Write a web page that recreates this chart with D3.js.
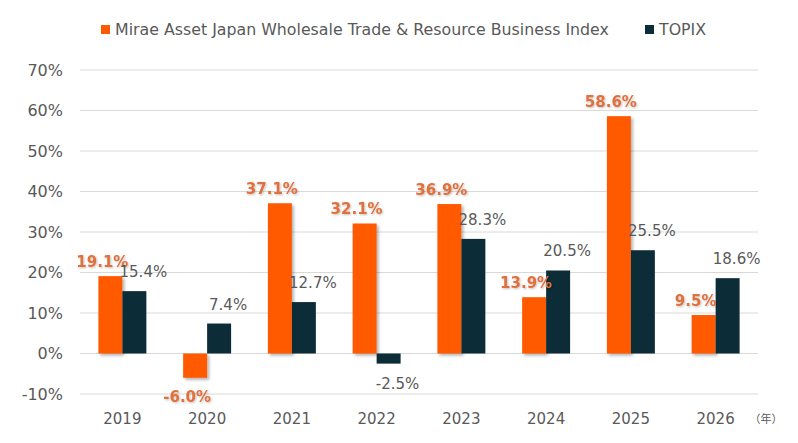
<!DOCTYPE html>
<html>
<head>
<meta charset="utf-8">
<script src="https://d3js.org/d3.v7.min.js"></script>
<style>
  body { margin: 0; background: #fff; }
  svg text { font-family: "DejaVu Sans", Verdana, sans-serif; }
</style>
</head>
<body>
<div id="chart"></div>
<script>
// data
var years = ["2019", "2020", "2021", "2022", "2023", "2024", "2025", "2026"];
var mirae = [19.1, -6.0, 37.1, 32.1, 36.9, 13.9, 58.6, 9.5];
var topix = [15.4, 7.4, 12.7, -2.5, 28.3, 20.5, 25.5, 18.6];
var seriesNames = ["Mirae Asset Japan Wholesale Trade & Resource Business Index", "TOPIX"];
var yTicks = [-10, 0, 10, 20, 30, 40, 50, 60, 70];

var W = 798, H = 443;
var orange = "#ff5a00", dark = "#0c2c38", grey = "#595959";

var svg = d3.select("#chart").append("svg")
    .attr("width", W).attr("height", H);

var defs = svg.append("defs");
defs.append("filter").attr("id", "shadow")
    .attr("x", "-20%").attr("y", "-20%").attr("width", "150%").attr("height", "150%")
  .append("feDropShadow")
    .attr("dx", 2).attr("dy", 2).attr("stdDeviation", 1.5)
    .attr("flood-color", "#000").attr("flood-opacity", 0.3);
defs.append("filter").attr("id", "tshadow")
  .append("feDropShadow")
    .attr("dx", 1).attr("dy", 1).attr("stdDeviation", 0.8)
    .attr("flood-color", "#000").attr("flood-opacity", 0.25);

var x = d3.scaleBand().domain(years).range([80, 758])
    .paddingInner(0.434).paddingOuter(0.217);
var xs = d3.scaleBand().domain([0, 1]).range([0, x.bandwidth()]);
var y = d3.scaleLinear().domain([-10, 70]).range([394, 70]);

// grid
svg.append("g").selectAll("line").data(yTicks).enter().append("line")
    .attr("x1", 80).attr("x2", 758)
    .attr("y1", function(d) { return y(d); })
    .attr("y2", function(d) { return y(d); })
    .attr("stroke", "#d9d9d9").attr("stroke-width", 1);

// y axis labels
var yAxis = svg.append("g").attr("transform", "translate(63,0)")
    .call(d3.axisLeft(y).tickValues(yTicks).tickSize(0).tickPadding(0)
      .tickFormat(function(d) { return d + "%"; }));
yAxis.select(".domain").remove();
yAxis.selectAll("text").attr("fill", grey).style("font-size", "16px")
    .style("font-family", "DejaVu Sans, sans-serif");

// x axis labels
var xAxis = svg.append("g").attr("transform", "translate(0,413)")
    .call(d3.axisBottom(x).tickSize(0).tickPadding(0));
xAxis.select(".domain").remove();
xAxis.selectAll("text").attr("fill", grey).style("font-size", "15px")
    .style("font-family", "DejaVu Sans, sans-serif");

svg.append("text").attr("x", 766).attr("y", 423)
    .attr("text-anchor", "middle").attr("fill", grey)
    .style("font-size", "11px").style("font-family", "Noto Sans CJK JP")
    .text("（年）");

var data = [mirae, topix];
var colors = [orange, dark];

// bars
data.forEach(function(vals, s) {
  svg.append("g").selectAll("rect").data(vals).enter().append("rect")
      .attr("x", function(d, i) { return x(years[i]) + xs(s); })
      .attr("width", xs.bandwidth())
      .attr("y", function(d) { return y(Math.max(0, d)); })
      .attr("height", function(d) { return Math.abs(y(d) - y(0)); })
      .attr("fill", colors[s])
      .attr("filter", s === 0 ? "url(#shadow)" : null);
});

// labels mirae
svg.append("g").selectAll("text").data(mirae).enter().append("text")
    .attr("x", function(d, i) { return x(years[i]) + xs(0) + xs.bandwidth() / 2 - 8; })
    .attr("y", function(d) { return d >= 0 ? y(d) - 9 : y(d) + 24; })
    .attr("text-anchor", "middle")
    .attr("fill", "#e0703c")
    .attr("filter", "url(#tshadow)")
    .style("font-size", "15px").style("font-weight", "bold")
    .text(function(d) { return d.toFixed(1) + "%"; });

// labels topix
svg.append("g").selectAll("text").data(topix).enter().append("text")
    .attr("x", function(d, i) { return x(years[i]) + xs(1) + xs.bandwidth() / 2 + 9; })
    .attr("y", function(d) { return d >= 0 ? y(d) - 14 : y(d) + 25; })
    .attr("text-anchor", "middle")
    .attr("fill", grey)
    .style("font-size", "15px")
    .text(function(d) { return d.toFixed(1) + "%"; });

// legend
var leg = svg.append("g");
var legX = [101, 645];
seriesNames.forEach(function(n, s) {
  leg.append("rect").attr("x", legX[s]).attr("y", 25).attr("width", 9).attr("height", 9)
      .attr("fill", colors[s]);
  leg.append("text").attr("x", legX[s] + 14).attr("y", 35)
      .attr("fill", grey).style("font-size", "15.8px")
      .text(n);
});
</script>
</body>
</html>
